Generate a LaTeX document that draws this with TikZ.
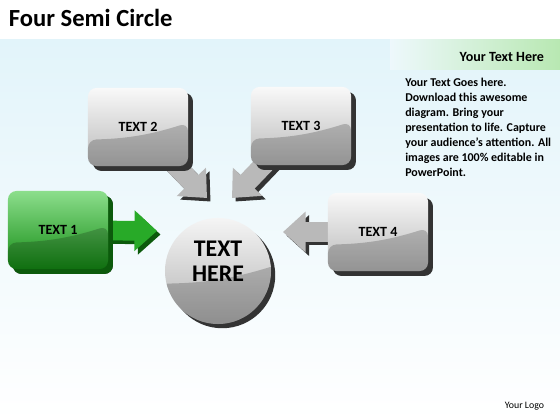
\documentclass[tikz,border=0pt]{standalone}
\usepackage{fontspec}
\setmainfont{Carlito}
\usetikzlibrary{arrows.meta,shadows}
\definecolor{bgblue}{RGB}{226,244,250}
\definecolor{bandgreen}{RGB}{184,232,178}
\definecolor{greentop}{RGB}{140,222,140}
\definecolor{greenbot}{RGB}{20,140,20}
\definecolor{greendark}{RGB}{12,90,12}
\definecolor{greenarrow}{RGB}{40,170,40}
\begin{document}
\begin{tikzpicture}[x=0.025cm, y=-0.025cm,
    gloss/.style={path picture={\fill[black, opacity=0.2] (path picture bounding box.south west) -- ([yshift=-9pt]path picture bounding box.west) to[bend right=8] ([yshift=3pt]path picture bounding box.east) -- (path picture bounding box.south east) -- cycle;}},
    panel/.style={rounded corners=6pt, minimum width=2.5cm, minimum height=1.95cm,
      top color=gray!5, bottom color=gray!55, gloss,
      font=\bfseries\fontsize{10}{12}\selectfont,
      general shadow={fill=black!80, shadow xshift=3.5pt, shadow yshift=-3.5pt}},
    greenpanel/.style={panel, top color=greentop, bottom color=greenbot,
      general shadow={fill=greendark, shadow xshift=3.5pt, shadow yshift=-3.5pt}},
    blockarrow/.style={line width=14pt, draw=gray!55, -{Triangle[width=28pt, length=16pt]}},
    arrowshadow/.style={blockarrow, draw=black!80, transform canvas={shift={(2.5pt,-2.5pt)}}}]
    \useasboundingbox (0,0) rectangle (560,420);
    \fill[top color=bgblue, bottom color=white] (0,40) rectangle (560,420);
    \fill[left color=bgblue!60!white, right color=bandgreen] (390,40) rectangle (560,70);

    \node[anchor=west, font=\bfseries\fontsize{17.5}{20}\selectfont] (title) at (4,18) {Four Semi Circle};
    \node[anchor=east, font=\bfseries\fontsize{10}{12}\selectfont] (bandtitle) at (549,57) {Your Text Here};
    \node[anchor=north west, align=left, inner sep=0pt, font=\bfseries\fontsize{8.5}{10.7}\selectfont] (blurb) at (405,78)
        {Your Text Goes here.\\Download this awesome\\diagram. Bring your\\presentation to life. Capture\\your audience’s attention. All\\images are 100\% editable in\\PowerPoint.};
    \node[anchor=east, font=\fontsize{7}{8}\selectfont] (logo) at (549,406) {Your Logo};

    \coordinate (tip1) at (157,231);
    \coordinate (tip2) at (207,198);
    \coordinate (tip3) at (232,198);
    \coordinate (tip4) at (283,232);

    \node[minimum size=1pt, inner sep=0pt] (c1) at (58,230) {};
    \node[minimum size=1pt, inner sep=0pt] (c2) at (138,127) {};
    \node[minimum size=1pt, inner sep=0pt] (c3) at (301,126) {};
    \node[minimum size=1pt, inner sep=0pt] (c4) at (378,232) {};

    \draw[arrowshadow, draw=greendark] (c1) -- (tip1);
    \draw[arrowshadow] (c2) -- (tip2);
    \draw[arrowshadow] (c3) -- (tip3);
    \draw[arrowshadow] (c4) -- (tip4);
    \draw[blockarrow, draw=greenarrow] (c1) -- (tip1);
    \draw[blockarrow] (c2) -- (tip2);
    \draw[blockarrow] (c3) -- (tip3);
    \draw[blockarrow] (c4) -- (tip4);

    \node[greenpanel] (box1) at (58,230) {TEXT 1};
    \node[panel] (box2) at (138,127) {TEXT 2};
    \node[panel] (box3) at (301,126) {TEXT 3};
    \node[panel] (box4) at (378,232) {TEXT 4};

    \node[circle, minimum size=2.65cm, top color=gray!8, bottom color=gray!60, gloss,
        general shadow={fill=black!80, shadow xshift=3pt, shadow yshift=-3pt}] (hub) at (218,271) {};
    \node[align=center, font=\bfseries\fontsize{17}{18}\selectfont] (hubtext) at (218,261) {TEXT\\HERE};
\end{tikzpicture}
\end{document}
